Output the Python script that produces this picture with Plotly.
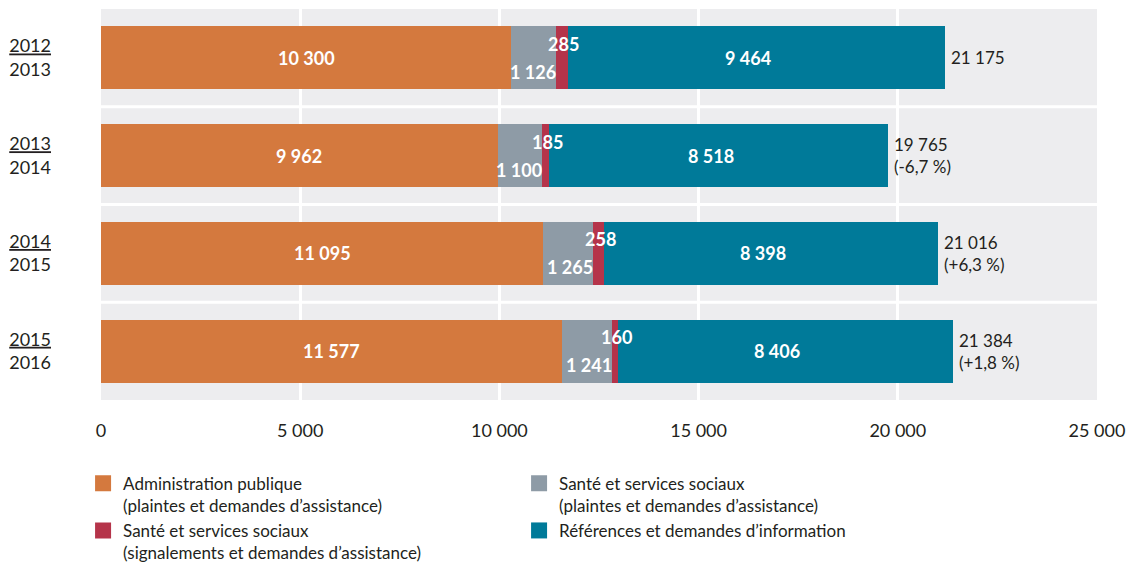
import plotly.graph_objects as go

years = ["<u>2012</u><br>2013", "<u>2013</u><br>2014", "<u>2014</u><br>2015", "<u>2015</u><br>2016"]
admin = [10300, 9962, 11095, 11577]
sante_plaintes = [1126, 1100, 1265, 1241]
sante_signal = [285, 185, 258, 160]
references = [9464, 8518, 8398, 8406]
totals = [21175, 19765, 21016, 21384]
variations = ["", "(-6,7 %)", "(+6,3 %)", "(+1,8 %)"]

series_names = [
    "Administration publique<br>(plaintes et demandes d’assistance)",
    "Santé et services sociaux<br>(plaintes et demandes d’assistance)",
    "Santé et services sociaux<br>(signalements et demandes d’assistance)",
    "Références et demandes d’information",
]
colors = ["#D4793E", "#8E9BA6", "#B5344A", "#007A99"]
xticks = [0, 5000, 10000, 15000, 20000, 25000]
xticklabels = ["0", "5 000", "10 000", "15 000", "20 000", "25 000"]

def fmt(v):
    return f"{v:,}".replace(",", " ")

FONT = "Lato"
DARK = "#231f20"

fig = go.Figure()
for name, vals, col in zip(series_names, [admin, sante_plaintes, sante_signal, references], colors):
    fig.add_trace(go.Bar(
        y=years, x=vals, orientation="h", name=name, showlegend=False,
        marker=dict(color=col, line=dict(width=0)),
        width=0.645, hoverinfo="skip",
    ))
# legend-only entries with larger square swatches
for name, col in zip(series_names, colors):
    fig.add_trace(go.Scatter(
        x=[None], y=[None], mode="markers", name=name,
        marker=dict(symbol="square", size=16, color=col), hoverinfo="skip",
    ))

ann = []
lab = dict(color="white", size=18, family=FONT)
for i, y in enumerate(years):
    a, g, r, t = admin[i], sante_plaintes[i], sante_signal[i], references[i]
    ann.append(dict(x=a / 2, y=y, text=f"<b>{fmt(a)}</b>", showarrow=False, font=lab))
    ann.append(dict(x=a + g, y=y, text=f"<b>{fmt(g)}</b>", showarrow=False, font=lab,
                    xanchor="right", yshift=-14, xshift=2))
    ann.append(dict(x=a + g + r / 2, y=y, text=f"<b>{fmt(r)}</b>", showarrow=False, font=lab,
                    xanchor="center", yshift=14, xshift=2))
    ann.append(dict(x=a + g + r + t / 2, y=y, text=f"<b>{fmt(t)}</b>", showarrow=False, font=lab,
                    xshift=-8))
    txt = fmt(totals[i]) + (f"<br>{variations[i]}" if variations[i] else "")
    ann.append(dict(x=totals[i], y=y, text=txt, showarrow=False, xanchor="left", align="left",
                    xshift=4, font=dict(color=DARK, size=17, family=FONT)))

shapes = [dict(type="line", xref="paper", x0=0, x1=1, yref="y", y0=k + 0.5, y1=k + 0.5,
               line=dict(color="white", width=3), layer="above") for k in range(len(years) - 1)]

fig.update_layout(
    barmode="stack",
    width=1128, height=565,
    margin=dict(l=101, r=31, t=9, b=165, autoexpand=False),
    plot_bgcolor="#EDEDEF", paper_bgcolor="white",
    font=dict(family=FONT, size=17, color=DARK),
    annotations=ann, shapes=shapes,
    bargap=0,
    legend=dict(orientation="h", x=-0.018, xanchor="left", y=-0.168, yanchor="top",
                entrywidth=391, entrywidthmode="pixels", valign="top",
                font=dict(size=17, family=FONT, color=DARK), traceorder="normal",
                tracegroupgap=0, itemsizing="trace"),
    xaxis=dict(range=[0, 25000], tickvals=xticks, ticktext=xticklabels, automargin=False,
               showgrid=True, gridcolor="white", gridwidth=2.5, zeroline=False,
               showline=False, ticks="", ticklabelstandoff=18, fixedrange=True,
               tickfont=dict(size=18)),
    yaxis=dict(range=[3.5, -0.5], autorange=False, showgrid=False, zeroline=False, ticks="",
               automargin=False, ticklabelstandoff=49, fixedrange=True,
               tickfont=dict(size=18)),
)
fig.write_html("out.html", config={"displayModeBar": False},
               post_script="document.body.style.margin='0';")
